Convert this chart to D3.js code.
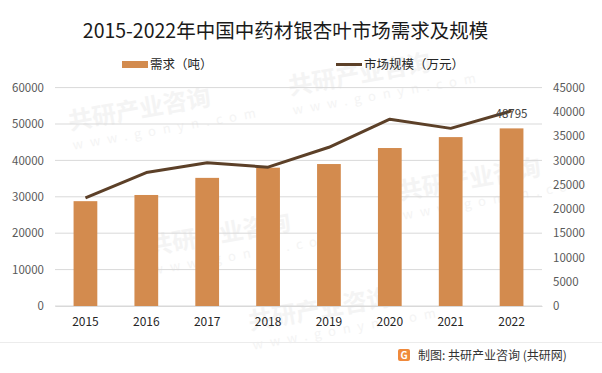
<!DOCTYPE html>
<html><head><meta charset="utf-8">
<script src="https://cdn.jsdelivr.net/npm/d3@7/dist/d3.min.js"></script>
<style>body{margin:0;background:#fff;}svg{display:block;}</style>
</head><body>
<svg id="c" width="602" height="373"></svg>
<script>
const years = ["2015","2016","2017","2018","2019","2020","2021","2022"];
const demand = [28800, 30500, 35200, 38000, 39000, 43400, 46400, 48795];
const marketSize = [22300, 27500, 29500, 28600, 32700, 38500, 36600, 40200];
const leftTicks = [0,10000,20000,30000,40000,50000,60000];
const rightTicks = [0,5000,10000,15000,20000,25000,30000,35000,40000,45000];
const title = "2015-2022年中国中药材银杏叶市场需求及规模";
const seriesNames = ["需求（吨）","市场规模（万元）"];
const lastLabel = "48795";

const font = "'Noto Sans CJK SC','Noto Sans',sans-serif";
const svg = d3.select("#c");
const W=602,H=373;
const m = {l:55, r:542, t:87.6, b:306};
const barColor = "#d38b4e", lineColor = "#5c4028";

// watermarks (kept fully inside the canvas)
const wm = svg.append("g").attr("fill","#f4f4f4").attr("font-family",font).attr("font-weight","bold");
[[70,130],[290,95],[150,255],[400,200],[250,330]].forEach(([x,y])=>{
  const g=wm.append("g").attr("transform",`translate(${x},${y}) rotate(-10)`);
  g.append("text").attr("font-size",24).text("共研产业咨询");
  g.append("text").attr("y",20).attr("font-size",13).attr("font-weight","normal").attr("letter-spacing",7).text("www.gonyn.com");
});

const x = d3.scaleBand().domain(years).range([m.l,m.r]).paddingInner(0.61).paddingOuter(0.305);
const yL = d3.scaleLinear().domain([0,60000]).range([m.b,m.t]);
const yR = d3.scaleLinear().domain([0,45000]).range([m.b,m.t]);

// gridlines
svg.append("g").selectAll("line").data(leftTicks).join("line")
  .attr("x1",m.l).attr("x2",m.r).attr("y1",d=>yL(d)).attr("y2",d=>yL(d))
  .attr("stroke","#d9d9d9").attr("stroke-width",1);

// left axis
const axL = svg.append("g").attr("transform",`translate(${m.l},0)`)
  .call(d3.axisLeft(yL).tickValues(leftTicks).tickSize(0).tickPadding(11).tickFormat(d=>d));
axL.select(".domain").remove();
axL.selectAll("text").attr("font-family",font).attr("font-size",11.5).attr("fill","#595959");

const axR = svg.append("g").attr("transform",`translate(${m.r},0)`)
  .call(d3.axisRight(yR).tickValues(rightTicks).tickSize(0).tickPadding(11).tickFormat(d=>d));
axR.select(".domain").remove();
axR.selectAll("text").attr("font-family",font).attr("font-size",11.5).attr("fill","#595959");

const axB = svg.append("g").attr("transform",`translate(0,${m.b})`)
  .call(d3.axisBottom(x).tickSize(0).tickPadding(11));
axB.select(".domain").attr("stroke","#d9d9d9");
axB.selectAll("text").attr("font-family",font).attr("font-size",12).attr("fill","#262626");

// bars
svg.append("g").selectAll("rect").data(years).join("rect")
  .attr("x",d=>x(d)).attr("width",x.bandwidth())
  .attr("y",(d,i)=>yL(demand[i])).attr("height",(d,i)=>m.b-yL(demand[i]))
  .attr("fill",barColor);

// line
const line = d3.line().x((d,i)=>x(years[i])+x.bandwidth()/2).y(d=>yR(d));
svg.append("path").datum(marketSize).attr("d",line)
  .attr("fill","none").attr("stroke",lineColor).attr("stroke-width",3).attr("stroke-linejoin","round");

// label
svg.append("text").attr("x",x("2022")+x.bandwidth()/2).attr("y",yL(demand[7])-10)
  .attr("text-anchor","middle").attr("font-family",font).attr("font-size",11.5).attr("fill","#404040").text(lastLabel);

// title
svg.append("text").attr("x",285.5).attr("y",38).attr("text-anchor","middle")
  .attr("font-family",font).attr("font-size",19.5).attr("fill","#1a1a1a").text(title);

// legend
svg.append("rect").attr("x",122).attr("y",61).attr("width",26).attr("height",7).attr("fill",barColor);
svg.append("text").attr("x",150).attr("y",69).attr("font-family",font).attr("font-size",12.5).attr("fill","#262626").text(seriesNames[0]);
svg.append("line").attr("x1",336).attr("x2",362).attr("y1",64.5).attr("y2",64.5).attr("stroke",lineColor).attr("stroke-width",3);
svg.append("text").attr("x",364).attr("y",69).attr("font-family",font).attr("font-size",12.5).attr("fill","#262626").text(seriesNames[1]);

// footer
svg.append("line").attr("x1",0).attr("x2",W).attr("y1",342.5).attr("y2",342.5).attr("stroke","#ececec");
const lg = svg.append("g").attr("transform","translate(398,349)");
lg.append("rect").attr("width",12).attr("height",12).attr("rx",2).attr("fill","#f08a3c");
lg.append("text").attr("x",6).attr("y",10).attr("text-anchor","middle").attr("font-family",font).attr("font-size",10).attr("font-weight","bold").attr("fill","#fff").text("G");
svg.append("text").attr("x",418).attr("y",360).attr("font-family",font).attr("font-size",12).attr("fill","#333").text("制图: 共研产业咨询 (共研网)");
</script>
</body></html>
